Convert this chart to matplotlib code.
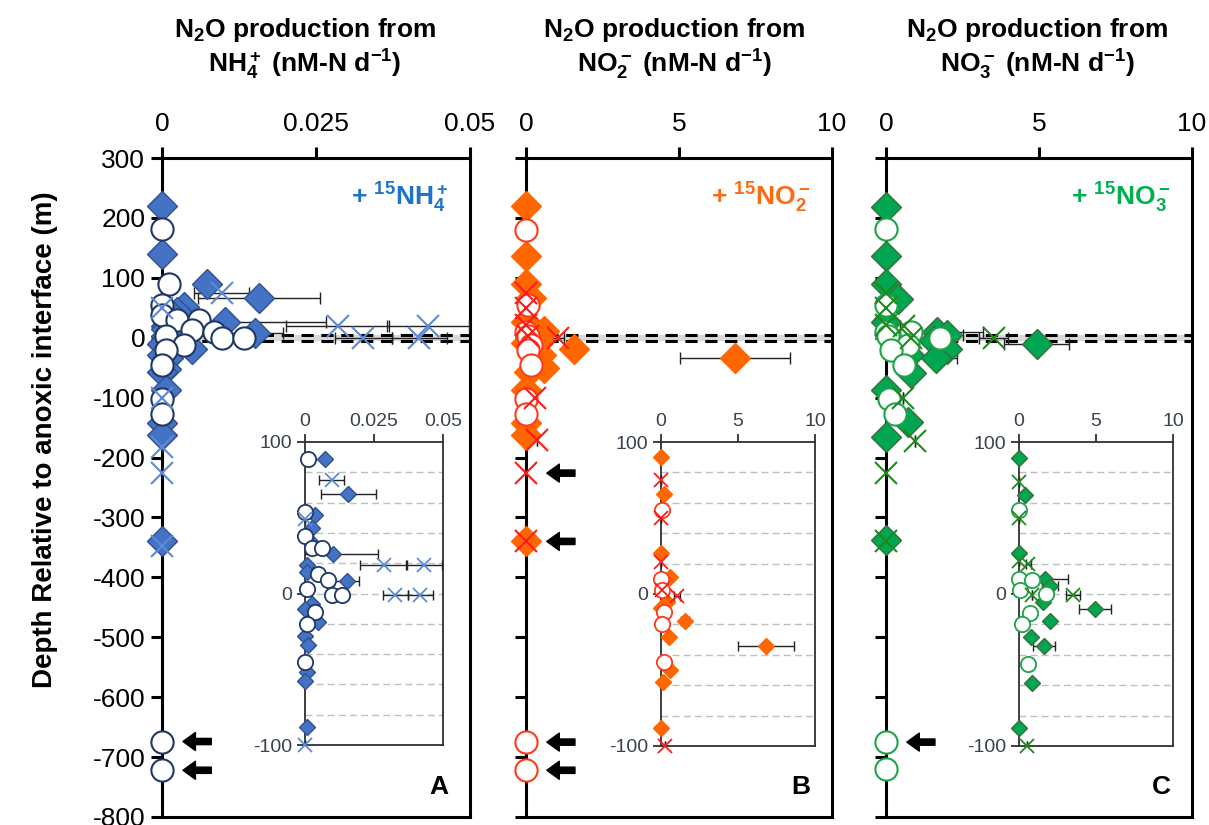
import matplotlib
matplotlib.use('Agg')
import matplotlib.pyplot as plt
import numpy as np

plt.rcParams['font.family'] = ['Liberation Sans', 'DejaVu Sans']
plt.rcParams['mathtext.fontset'] = 'custom'
plt.rcParams['mathtext.rm'] = 'Liberation Sans:bold'
plt.rcParams['mathtext.bf'] = 'Liberation Sans:bold'
plt.rcParams['mathtext.it'] = 'Liberation Sans:bold'
plt.rcParams['mathtext.default'] = 'bf'

# ---------------- data (x = N2O production, d = depth rel. to anoxic interface, e = error) -------------
# Panel A : + 15NH4+
A_dia_x = [0, 0, 0.0073, 0.0157, 0.0036, 0.0024, 0.0020, 0.0103, 0.0006, 0.0006, 0.0151, 0.0006,
           0.0024, 0, 0.0048, 0, 0.0010, 0.0006, 0, 0.0006, 0, 0, 0]
A_dia_d = [220, 140, 89, 66, 52, 43, 34, 26, 19, 14, 8, 3, -7, -10, -19, -28, -34, -52, -58, -88, -142, -162, -340]
A_dia_e = [0, 0, 0.0008, 0.0099, 0, 0, 0, 0.0163, 0, 0, 0.0046, 0, 0, 0, 0, 0, 0, 0, 0, 0, 0, 0, 0]
A_cir_x = [0, 0.0012, 0, 0, 0.0024, 0.0060, 0.0048, 0.0085, 0.0006, 0.0097, 0.0133, 0.0036, 0.0006, 0, 0, 0, 0, 0]
A_cir_d = [182, 89, 54, 38, 30, 30, 13, 9, 3, -1, -1, -12, -20, -45, -103, -128, -674, -722]
A_crs_x = [0.0097, 0, 0.0285, 0.0432, 0.0327, 0.0418, 0, 0, 0, 0]
A_crs_d = [75, 49, 19, 19, -1, -1, -100, -182, -225, -347]
A_crs_e = [0.0045, 0, 0.0084, 0.0066, 0.0046, 0.0044, 0, 0, 0, 0]
A_arrows = [-674, -722]

# Panel B : + 15NO2-
B_dia_x = [0, 0, 0, 0.17, 0, 0.6, 0.4, 0, 1.58, 0.5, 6.82, 0.6, 0.1, 0, 0, 0, 0]
B_dia_d = [220, 137, 90, 66, 27, 11, -5, -9.5, -18, -28.6, -34, -50, -58, -88, -142, -162, -340]
B_dia_e = [0, 0, 0, 0, 0, 0, 0, 0, 0.25, 0, 1.8, 0, 0, 0, 0, 0, 0]
B_cir_x = [0, 0.06, 0, 0.06, 0.17, 0.06, 0.17, 0, 0, 0, 0]
B_cir_d = [180, 55, 10, 2.5, -12, -20, -45, -103, -128, -675, -722]
B_crs_x = [0, 0, 0, 0.06, 1.04, 0.28, 0.36, 0, 0]
B_crs_d = [75, 50, 21, 2.5, -1, -100, -170, -226, -340]
B_crs_e = [0, 0, 0, 0, 0.2, 0, 0, 0, 0]
B_arrows = [-226, -340, -675, -722]

# Panel C : + 15NO3-
C_dia_x = [0, 0, 0, 0.4, 0, 1.68, 2.0, 1.58, 4.92, 2.0, 0.76, 1.62, 0.82, 0, 0.72, 0, 0]
C_dia_d = [219, 137, 89.5, 65, 27, 10, 5, -5, -10, -18, -28, -34, -58.5, -88, -140, -165, -337]
C_dia_e = [0, 0, 0, 0, 0.2, 1.5, 0.5, 0, 1.05, 0, 0, 0.7, 0, 0, 0, 0, 0]
C_cir_x = [0, 0, 0, 0.82, 0.06, 1.75, 0.71, 0.17, 0.6, 0.1, 0.3, 0, 0]
C_cir_d = [181, 55, 10, 9, 2.7, 0, -12.5, -20, -46, -103, -128, -675, -720]
C_crs_x = [0, 0, 0, 0.6, 0.82, 3.52, 0.55, 0.95, 0, 0]
C_crs_d = [74, 50, 22, 20, -0.5, -0.5, -100, -173, -226, -340]
C_crs_e = [0, 0, 0, 0.15, 0, 0.47, 0, 0, 0, 0]
C_arrows = [-675]

interface_upper = 5
interface_lower = -6

main_yticks = list(range(300, -801, -100))
A_xticks = [0, 0.025, 0.05]
A_xticklabels = ['0', '0.025', '0.05']
BC_xticks = [0, 5, 10]
BC_xticklabels = ['0', '5', '10']
inset_yticks = [100, 0, -100]
inset_grid = [80, 60, 40, 20, 0, -20, -40, -60, -80]

titles_1 = [r'N$_2$O production from'] * 3
titles_2 = [r'NH$_4^+$ (nM-N d$^{-1}$)', r'NO$_2^-$ (nM-N d$^{-1}$)', r'NO$_3^-$ (nM-N d$^{-1}$)']
tags = [r'+ $^{15}$NH$_4^+$', r'+ $^{15}$NO$_2^-$', r'+ $^{15}$NO$_3^-$']
letters = ['A', 'B', 'C']

styles = [
    dict(dfc='#4472C4', dec='#2F528F', cec='#1F3864', xc='#5B8BD8', tag='#1F73C8'),
    dict(dfc='#FF6600', dec='#FF6600', cec='#FF3A1A', xc='#FF1A1A', tag='#FF6A10'),
    dict(dfc='#00A651', dec='#3B6E38', cec='#1FA349', xc='#1E8A1E', tag='#00B050'),
]

panels = [
    (A_dia_x, A_dia_d, A_dia_e, A_cir_x, A_cir_d, A_crs_x, A_crs_d, A_crs_e, A_arrows, (0, 0.05), A_xticks, A_xticklabels),
    (B_dia_x, B_dia_d, B_dia_e, B_cir_x, B_cir_d, B_crs_x, B_crs_d, B_crs_e, B_arrows, (0, 10), BC_xticks, BC_xticklabels),
    (C_dia_x, C_dia_d, C_dia_e, C_cir_x, C_cir_d, C_crs_x, C_crs_d, C_crs_e, C_arrows, (0, 10), BC_xticks, BC_xticklabels),
]

W, H = 1209, 825
fig = plt.figure(figsize=(W / 100, H / 100), dpi=100)


def px(l, t, r, b):
    return [l / W, 1 - b / H, (r - l) / W, (b - t) / H]


main_px = [(162, 158, 470, 817), (526, 158, 832, 817), (886, 158, 1192, 817)]
inset_px = [(305, 442, 443, 745), (661, 442, 815, 746), (1019, 442, 1173, 746)]
title_cx = [305, 674, 1037]


def sel(x, d, lo, hi, e=None):
    x = np.asarray(x, float)
    d = np.asarray(d, float)
    m = (d >= lo) & (d <= hi)
    if e is None:
        return x[m], d[m]
    return x[m], d[m], np.asarray(e, float)[m]


def draw_series(ax, st, dx, dd, de, cx, cd, xx, xd, xe, big):
    if big:
        dms, cms, xms, lw, cap = 15, 16, 16, 1.5, 4
        lo, hi = -800, 300
    else:
        dms, cms, xms, lw, cap = 8.5, 11, 10, 1.3, 3.5
        lo, hi = -100, 100
    dx, dd, de = sel(dx, dd, lo, hi, de)
    cx, cd = sel(cx, cd, lo, hi)
    xx, xd, xe = sel(xx, xd, lo, hi, xe)
    ax.errorbar(dx, dd, xerr=de, fmt='none', ecolor='#222222', elinewidth=1.0, capsize=cap,
                capthick=1.0, zorder=4)
    ax.errorbar(xx, xd, xerr=xe, fmt='none', ecolor='#222222', elinewidth=1.0, capsize=cap,
                capthick=1.0, zorder=4)
    ax.plot(dx, dd, ls='none', marker='D', ms=dms, mfc=st['dfc'], mec=st['dec'], mew=1.0, zorder=5, clip_on=False)
    ax.plot(cx, cd, ls='none', marker='o', ms=cms, mfc='white', mec=st['cec'], mew=lw, zorder=6, clip_on=False)
    ax.plot(xx, xd, ls='none', marker='x', ms=xms, mec=st['xc'], mew=lw, zorder=7, clip_on=False)


for i, (dx, dd, de, cx, cd, xx, xd, xe, arrows, xlim, xt, xtl) in enumerate(panels):
    st = styles[i]
    ax = fig.add_axes(px(*main_px[i]))
    ax.set_xlim(*xlim)
    ax.set_ylim(-800, 300)
    for s in ax.spines.values():
        s.set_linewidth(2.2)
        s.set_color('black')
    ax.xaxis.tick_top()
    ax.set_xticks(xt)
    ax.set_xticklabels(xtl, fontsize=19)
    ax.set_yticks(main_yticks)
    if i == 0:
        ax.set_yticklabels([str(v) for v in main_yticks], fontsize=19)
    else:
        ax.set_yticklabels([])
    ax.tick_params(axis='both', direction='out', length=8, width=2.2, pad=4)
    ax.tick_params(axis='x', pad=8)
    # interface band
    ax.axhspan(interface_lower, interface_upper, color='#D9D9D9', zorder=1, lw=0)
    ax.axhline(interface_upper, color='black', ls=(0, (4, 2.5)), lw=2.2, zorder=2)
    ax.axhline(interface_lower, color='black', ls=(0, (4, 2.5)), lw=2.2, zorder=2)
    draw_series(ax, st, dx, dd, de, cx, cd, xx, xd, xe, True)
    # arrows
    for dep in arrows:
        ax.annotate('', xy=(0.068, dep), xytext=(0.16, dep),
                    xycoords=('axes fraction', 'data'), textcoords=('axes fraction', 'data'),
                    arrowprops=dict(facecolor='black', edgecolor='black', width=4.5, headwidth=13,
                                    headlength=9, shrink=0), zorder=8)
    ax.text(0.93, 0.94, tags[i], transform=ax.transAxes, ha='right', va='center', fontsize=19,
            fontweight='bold', color=st['tag'])
    ax.text(0.93, 0.028, letters[i], transform=ax.transAxes, ha='right', va='bottom', fontsize=19,
            fontweight='bold', color='black')
    fig.text(title_cx[i] / W, 1 - 30 / H, titles_1[i], ha='center', va='center', fontsize=19, fontweight='bold')
    fig.text(title_cx[i] / W, 1 - 65 / H, titles_2[i], ha='center', va='center', fontsize=19, fontweight='bold')

    # inset
    ia = fig.add_axes(px(*inset_px[i]))
    ia.set_zorder(10)
    ia.set_xlim(*xlim)
    ia.set_ylim(-100, 100)
    for s in ia.spines.values():
        s.set_linewidth(1.3)
        s.set_color('#303030')
    ia.xaxis.tick_top()
    ia.set_xticks(xt)
    ia.set_xticklabels(xtl, fontsize=14, color='#3A4250')
    ia.set_yticks(inset_yticks)
    ia.set_yticklabels([str(v) for v in inset_yticks], fontsize=14, color='#3A4250')
    ia.tick_params(axis='both', direction='out', length=6, width=1.3, color='#303030', pad=3)
    for g in inset_grid:
        ia.axhline(g, color='#BFBFBF', ls=(0, (5, 3)), lw=1.0, zorder=1)
    draw_series(ia, st, dx, dd, de, cx, cd, xx, xd, xe, False)

fig.text(45 / W, 1 - 440 / H, 'Depth Relative to anoxic interface (m)', rotation=90, ha='center', va='center',
         fontsize=20, fontweight='bold')

fig.savefig('out.png', dpi=100)
